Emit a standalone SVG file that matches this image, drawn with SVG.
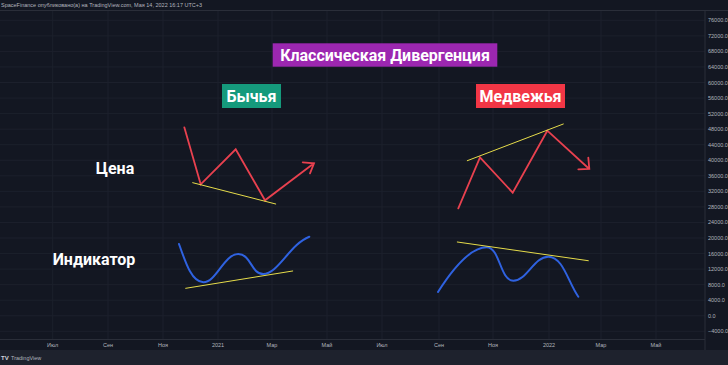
<svg xmlns="http://www.w3.org/2000/svg" width="728" height="365" viewBox="0 0 728 365">
<style>
.bg{fill:#131722}
.grid{stroke:#1c202c;stroke-width:1}
.sep{stroke:#2a2e39;stroke-width:1}
.ax{font-family:"Liberation Sans",Arial,sans-serif;font-size:5.5px;fill:#b2b5be}
.hdr{font-family:"Liberation Sans",Arial,sans-serif;font-size:5.5px;fill:#b2b5be}
.lbl{font-family:Roboto,"Open Sans",sans-serif;font-weight:700;font-size:16px;fill:#ffffff}
.red{fill:none;stroke:#e8414f;stroke-width:1.8;stroke-linejoin:miter;stroke-linecap:round}
.blue{fill:none;stroke:#2f62e0;stroke-width:2;stroke-linecap:round}
.yel{fill:none;stroke:#e6dc4a;stroke-width:1;stroke-linecap:round}
</style>
<rect class="bg" x="0" y="0" width="728" height="365"/>
<!-- header -->
<text class="hdr" x="1" y="7">SpaceFinance опубликовано(а) на TradingView.com, Мая 14, 2022 16:17 UTC+3</text>
<line class="sep" x1="0" y1="10.5" x2="728" y2="10.5"/>
<!-- grid -->
<g id="grid">
<g class="grid">
<line x1="0" y1="20.3" x2="705" y2="20.3"/><line x1="0" y1="35.85" x2="705" y2="35.85"/><line x1="0" y1="51.4" x2="705" y2="51.4"/><line x1="0" y1="66.95" x2="705" y2="66.95"/><line x1="0" y1="82.5" x2="705" y2="82.5"/><line x1="0" y1="98.05" x2="705" y2="98.05"/><line x1="0" y1="113.6" x2="705" y2="113.6"/><line x1="0" y1="129.15" x2="705" y2="129.15"/><line x1="0" y1="144.7" x2="705" y2="144.7"/><line x1="0" y1="160.25" x2="705" y2="160.25"/><line x1="0" y1="175.8" x2="705" y2="175.8"/><line x1="0" y1="191.35" x2="705" y2="191.35"/><line x1="0" y1="206.9" x2="705" y2="206.9"/><line x1="0" y1="222.45" x2="705" y2="222.45"/><line x1="0" y1="238" x2="705" y2="238"/><line x1="0" y1="253.55" x2="705" y2="253.55"/><line x1="0" y1="269.1" x2="705" y2="269.1"/><line x1="0" y1="284.65" x2="705" y2="284.65"/><line x1="0" y1="300.2" x2="705" y2="300.2"/><line x1="0" y1="315.75" x2="705" y2="315.75"/><line x1="0" y1="331.3" x2="705" y2="331.3"/>
<line x1="52.7" y1="11" x2="52.7" y2="339"/><line x1="108" y1="11" x2="108" y2="339"/><line x1="163" y1="11" x2="163" y2="339"/><line x1="218" y1="11" x2="218" y2="339"/><line x1="272" y1="11" x2="272" y2="339"/><line x1="327" y1="11" x2="327" y2="339"/><line x1="382" y1="11" x2="382" y2="339"/><line x1="439" y1="11" x2="439" y2="339"/><line x1="493" y1="11" x2="493" y2="339"/><line x1="549" y1="11" x2="549" y2="339"/><line x1="601" y1="11" x2="601" y2="339"/><line x1="656" y1="11" x2="656" y2="339"/>
</g>
</g>
<!-- axes -->
<g id="price-axis">
<line class="sep" x1="705" y1="11" x2="705" y2="350"/>
<g class="ax">
<text x="708" y="22.3">76000.0</text><text x="708" y="37.85">72000.0</text><text x="708" y="53.4">68000.0</text><text x="708" y="68.95">64000.0</text><text x="708" y="84.5">60000.0</text><text x="708" y="100.05">56000.0</text><text x="708" y="115.6">52000.0</text><text x="708" y="131.15">48000.0</text><text x="708" y="146.7">44000.0</text><text x="708" y="162.25">40000.0</text><text x="708" y="177.8">36000.0</text><text x="708" y="193.35">32000.0</text><text x="708" y="208.9">28000.0</text><text x="708" y="224.45">24000.0</text><text x="708" y="240">20000.0</text><text x="708" y="255.55">16000.0</text><text x="708" y="271.1">12000.0</text><text x="708" y="286.65">8000.0</text><text x="708" y="302.2">4000.0</text><text x="708" y="317.75">0.0</text><text x="708" y="333.3">−4000.0</text>
</g>
</g>
<g id="time-axis">
<line class="sep" x1="0" y1="339.5" x2="705" y2="339.5"/>
<g class="ax" text-anchor="middle">
<text x="52.7" y="347">Июл</text><text x="108" y="347">Сен</text><text x="163" y="347">Ноя</text><text x="218" y="347">2021</text><text x="272" y="347">Мар</text><text x="327" y="347">Май</text><text x="382" y="347">Июл</text><text x="439" y="347">Сен</text><text x="493" y="347">Ноя</text><text x="549" y="347">2022</text><text x="601" y="347">Мар</text><text x="656" y="347">Май</text>
</g>
</g>
<!-- footer -->
<rect x="0" y="350" width="728" height="15" fill="#1e222d"/>
<text x="1" y="360" font-family="Liberation Sans,Arial,sans-serif" font-size="6" font-weight="700" fill="#d1d4dc">TV</text>
<text x="11" y="360" font-family="Liberation Sans,Arial,sans-serif" font-size="5.5" fill="#b2b5be">TradingView</text>

<!-- nodes -->
<g id="title">
<rect x="272.7" y="43.3" width="224.6" height="23.4" fill="#9c27b0"/>
<text class="lbl" x="385" y="61" text-anchor="middle">Классическая Дивергенция</text>
</g>
<g id="bull-label">
<rect x="222" y="84" width="59" height="24" fill="#159a7c"/>
<text class="lbl" x="251.5" y="101.5" text-anchor="middle">Бычья</text>
</g>
<g id="bear-label">
<rect x="476" y="84" width="89" height="24" fill="#f23645"/>
<text class="lbl" x="520.5" y="101.5" text-anchor="middle">Медвежья</text>
</g>
<g id="price-label"><text class="lbl" x="115" y="174.3" text-anchor="middle">Цена</text></g>
<g id="indicator-label"><text class="lbl" x="94" y="265" text-anchor="middle">Индикатор</text></g>

<g id="connectors">
<!-- bull price -->
<path class="red" d="M184.3,127.3 L200.7,184.3 L235.7,149.3 L265,200.3 L314,163.3 M302.7,162.3 L314,163.3 L310,173.3"/>
<path class="yel" d="M192.7,182.7 L275.7,204"/>
<!-- bull indicator -->
<path class="blue" d="M179,244 C186,264 192,282 203.3,282.3 C216,282.6 224,254 238.3,254 C251,254 251,274 263.3,274 C278,274 290,244 309.3,236.7"/>
<path class="yel" d="M185.7,288.3 L292.7,271"/>
<!-- bear price -->
<path class="red" d="M458.3,208.3 L480,157.3 L512.7,192.7 L547.3,130.7 L589.3,169 M578.3,169.3 L589.3,169 L588.3,157.7"/>
<path class="yel" d="M467.3,160.7 L563.3,124"/>
<!-- bear indicator -->
<path class="blue" d="M438,292 C452,270 470,247.3 486.7,247.3 C500,247.3 500,280.7 513.3,280.7 C527,280.7 534,256.7 548.3,256.7 C563,256.7 568,282 578.3,296.7"/>
<path class="yel" d="M457.3,242 L588.3,260.7"/>
</g>
</svg>
